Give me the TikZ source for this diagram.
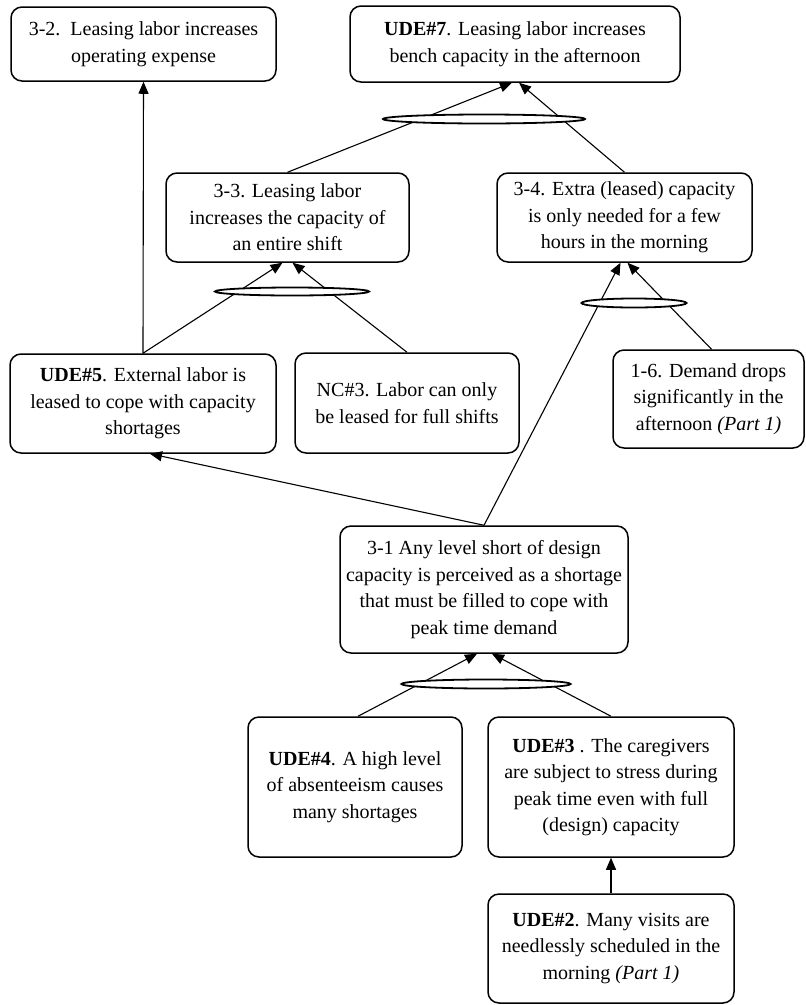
\documentclass[tikz,border=0pt]{standalone}
\usepackage{fontspec}
\setmainfont{Liberation Serif}
\usetikzlibrary{arrows.meta,calc,shapes.geometric}
\begin{document}
\begin{tikzpicture}[x=1pt,y=-1pt,
  box/.style={draw,line width=1.5pt,rounded corners=11pt,align=center,
    inner sep=0pt,font=\fontsize{20}{26.5}\selectfont},
  link/.style={line width=1.1pt,-{Triangle[length=12pt,width=10pt]}},
  andring/.style={draw,ellipse,fill=white,line width=1.8pt,inner sep=0pt}]
\useasboundingbox (0,0) rectangle (806,1005);

% entities
\node[box,minimum width=265pt,minimum height=74pt] (n32) at (143.5,44)
  {3-2.\ \ Leasing labor increases\\operating expense};
\node[box,minimum width=330pt,minimum height=76pt] (u7) at (515,44)
  {\textbf{UDE\#7}. Leasing labor increases\\bench capacity in the afternoon};
\node[box,minimum width=243pt,minimum height=89pt] (n33) at (287.5,217.5)
  {3-3. Leasing labor\\increases the capacity of\\an entire shift};
\node[box,minimum width=255pt,minimum height=89pt] (n34) at (624.5,217.5)
  {3-4. Extra (leased) capacity\\is only needed for a few\\hours in the morning};
\node[box,minimum width=266pt,minimum height=99pt] (u5) at (143,403.5)
  {\textbf{UDE\#5}. External labor is\\leased to cope with capacity\\shortages};
\node[box,minimum width=224pt,minimum height=100pt] (nc3) at (407,403)
  {NC\#3. Labor can only\\be leased for full shifts};
\node[box,minimum width=191pt,minimum height=98pt] (n16) at (708.5,399)
  {1-6. Demand drops\\significantly in the\\afternoon \textit{(Part 1)}};
\node[box,minimum width=288pt,minimum height=127pt] (n31) at (484,589.5)
  {3-1 Any level short of design\\capacity is perceived as a shortage\\that must be filled to cope with\\peak time demand};
\node[box,minimum width=214pt,minimum height=140pt] (u4) at (355,787)
  {\textbf{UDE\#4}. A high level\\of absenteeism causes\\many shortages};
\node[box,minimum width=246pt,minimum height=140pt] (u3) at (611,787)
  {\textbf{UDE\#3} . The caregivers\\are subject to stress during\\peak time even with full\\(design) capacity};
\node[box,minimum width=246pt,minimum height=109pt] (u2) at (611,948.5)
  {\textbf{UDE\#2}. Many visits are\\needlessly scheduled in the\\morning \textit{(Part 1)}};

% cause-effect links
\draw[link] (u5.north) -- (n32.south);
\draw[link] (n33.north) -- ($(u7.south)+(-3,0)$);
\draw[link] (n34.north) -- ($(u7.south)+(4,0)$);
\draw[link] (u5.north) -- ($(n33.south)+(-5,0)$);
\draw[link] (nc3.north) -- ($(n33.south)+(5,0)$);
\draw[link] (n31.north) -- ($(n34.south)+(-4,0)$);
\draw[link] ($(n16.north)+(3,0)$) -- ($(n34.south)+(3,0)$);
\draw[link] (n31.north) -- ($(u5.south)+(7,0)$);
\draw[link] ($(u4.north)+(3,0)$) -- ($(n31.south)+(-7,0)$);
\draw[link] (u3.north) -- ($(n31.south)+(8,0)$);
\draw[link] (u2.north) -- (u3.south);

% logical AND connectors
\node[andring,minimum width=202pt,minimum height=9pt] (e7) at (484,119) {};
\node[andring,minimum width=154pt,minimum height=8pt] (e33) at (292,291.5) {};
\node[andring,minimum width=105pt,minimum height=9pt] (e34) at (634,303) {};
\node[andring,minimum width=169pt,minimum height=9pt] (e31) at (486,684) {};
\end{tikzpicture}
\end{document}
